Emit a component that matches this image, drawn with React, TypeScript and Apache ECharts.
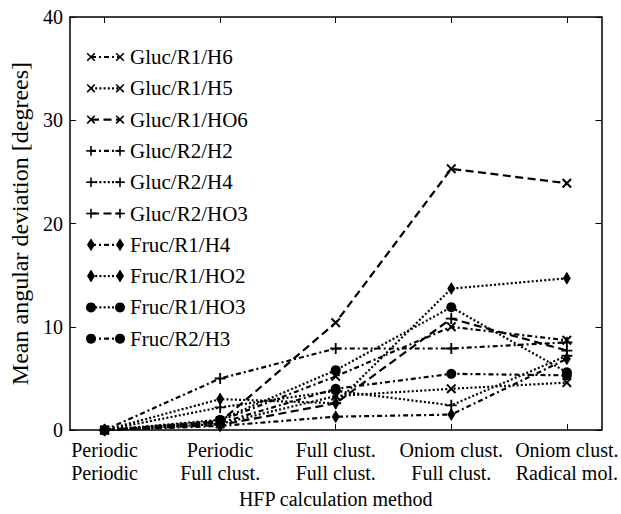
import React, { useEffect, useRef } from "react";
import * as echarts from "echarts";

const catLine1 = ["Periodic", "Periodic", "Full clust.", "Oniom clust.", "Oniom clust."];
const catLine2 = ["Periodic", "Full clust.", "Full clust.", "Full clust.", "Radical mol."];
const yTicks = [0, 10, 20, 30, 40];

const seriesNames = [
  "Gluc/R1/H6", "Gluc/R1/H5", "Gluc/R1/HO6", "Gluc/R2/H2", "Gluc/R2/H4",
  "Gluc/R2/HO3", "Fruc/R1/H4", "Fruc/R1/HO2", "Fruc/R1/HO3", "Fruc/R2/H3",
];
const glucR1H6 = [0, 0.9, 5.2, 10.0, 8.7];
const glucR1H5 = [0, 0.6, 3.3, 4.0, 4.6];
const glucR1HO6 = [0, 0.8, 10.4, 25.3, 23.9];
const glucR2H2 = [0, 5.0, 7.9, 7.9, 8.5];
const glucR2H4 = [0, 2.2, 3.8, 2.4, 7.2];
const glucR2HO3 = [0, 0.5, 2.6, 10.8, 7.7];
const frucR1H4 = [0, 0.4, 1.3, 1.5, 6.9];
const frucR1HO2 = [0, 3.0, 2.6, 13.7, 14.7];
const frucR1HO3 = [0, 1.0, 5.8, 11.9, 5.6];
const frucR2H3 = [0, 0.7, 4.0, 5.45, 5.3];
const seriesValues = [glucR1H6, glucR1H5, glucR1HO6, glucR2H2, glucR2H4, glucR2HO3, frucR1H4, frucR1HO2, frucR1HO3, frucR2H3];
const markerKinds = ["x", "x", "x", "+", "+", "+", "d", "d", "c", "c"];
const dashKinds = ["dd", "dot", "dash", "dd", "dot", "dash", "dd", "dot", "dot", "dd"];

const FONT = '"Liberation Serif", "Times New Roman", serif';
const DASH: Record<string, number[]> = {
  dd: [5, 3, 2, 3],
  dot: [2, 2.2],
  dash: [8, 4.5],
};
const PLUS_PATH = "path://M5,0H7V5H12V7H7V12H5V7H0V5H5Z";

function symbolFor(kind: string) {
  if (kind === "x") return { symbol: PLUS_PATH, symbolSize: 12, symbolRotate: 45 };
  if (kind === "+") return { symbol: PLUS_PATH, symbolSize: 11, symbolRotate: 0 };
  if (kind === "d") return { symbol: "diamond", symbolSize: [8, 13], symbolRotate: 0 };
  return { symbol: "circle", symbolSize: 10, symbolRotate: 0 };
}

function legendMarker(kind: string, cx: number, cy: number) {
  const st = { stroke: "#000", lineWidth: 1.6 };
  if (kind === "x") {
    return [
      { type: "line", shape: { x1: cx - 3.8, y1: cy - 3.8, x2: cx + 3.8, y2: cy + 3.8 }, style: st },
      { type: "line", shape: { x1: cx - 3.8, y1: cy + 3.8, x2: cx + 3.8, y2: cy - 3.8 }, style: st },
    ];
  }
  if (kind === "+") {
    return [
      { type: "line", shape: { x1: cx - 4.8, y1: cy, x2: cx + 4.8, y2: cy }, style: st },
      { type: "line", shape: { x1: cx, y1: cy - 4.8, x2: cx, y2: cy + 4.8 }, style: st },
    ];
  }
  if (kind === "d") {
    return [
      { type: "polygon", shape: { points: [[cx, cy - 6.5], [cx + 4, cy], [cx, cy + 6.5], [cx - 4, cy]] }, style: { fill: "#000" } },
    ];
  }
  return [{ type: "circle", shape: { cx, cy, r: 5 }, style: { fill: "#000" } }];
}

export default function App() {
  const ref = useRef<HTMLDivElement>(null);
  useEffect(() => {
    if (!ref.current) return;
    const chart = echarts.init(ref.current, null, { renderer: "svg" });

    const series = seriesNames.map((name, k) => {
      const s = symbolFor(markerKinds[k]);
      return {
        type: "line",
        name,
        data: seriesValues[k].map((v, i) => [i, v]),
        symbol: s.symbol,
        symbolSize: s.symbolSize,
        symbolRotate: s.symbolRotate,
        symbolKeepAspect: true,
        showAllSymbol: true,
        lineStyle: { color: "#000", width: 2.2, type: DASH[dashKinds[k]] },
        itemStyle: { color: "#000" },
        emphasis: { disabled: true },
        z: 3,
      };
    });

    const legendEls: any[] = [];
    seriesNames.forEach((name, k) => {
      const y = 57 + k * 31.3;
      const x1 = 91;
      const x2 = 120;
      legendEls.push({
        type: "line",
        shape: { x1, y1: y, x2, y2: y },
        style: { stroke: "#000", lineWidth: 2.2, lineDash: DASH[dashKinds[k]] },
      });
      legendEls.push(...legendMarker(markerKinds[k], x1, y));
      legendEls.push(...legendMarker(markerKinds[k], x2, y));
      legendEls.push({
        type: "text",
        x: 130,
        y,
        style: {
          text: name,
          font: `21px ${FONT}`,
          fill: "#000",
          verticalAlign: "middle",
          textVerticalAlign: "middle",
        },
      });
    });

    const axisLineStyle = { color: "#000", width: 1.5 };
    const xCustom = catLine1.map((_, i) => i);

    chart.setOption({
      animation: false,
      backgroundColor: "#fff",
      textStyle: { fontFamily: FONT },
      grid: { left: 62, right: 18, top: 17, bottom: 79 },
      xAxis: [
        {
          type: "value",
          min: -0.3,
          max: 4.3,
          position: "bottom",
          axisLine: { onZero: false, lineStyle: axisLineStyle },
          axisTick: { inside: true, length: 6, customValues: xCustom, lineStyle: { color: "#000", width: 1 } },
          axisLabel: {
            customValues: xCustom,
            formatter: (v: number) => {
              const i = Math.round(v);
              return catLine1[i] + "\n" + catLine2[i];
            },
            color: "#000",
            fontSize: 20,
            fontFamily: FONT,
            lineHeight: 23,
            margin: 8,
            hideOverlap: false,
          },
          splitLine: { show: false },
          name: "HFP calculation method",
          nameLocation: "middle",
          nameGap: 52,
          nameTextStyle: { color: "#000", fontSize: 20, fontFamily: FONT },
        },
        {
          type: "value",
          min: -0.3,
          max: 4.3,
          position: "top",
          axisLine: { onZero: false, lineStyle: axisLineStyle },
          axisTick: { inside: true, length: 6, customValues: xCustom, lineStyle: { color: "#000", width: 1 } },
          axisLabel: { show: false },
          splitLine: { show: false },
        },
      ],
      yAxis: [
        {
          type: "value",
          min: yTicks[0],
          max: yTicks[yTicks.length - 1],
          interval: 10,
          position: "left",
          axisLine: { show: true, onZero: false, lineStyle: axisLineStyle },
          axisTick: { show: true, inside: true, length: 6, lineStyle: { color: "#000", width: 1 } },
          axisLabel: { color: "#000", fontSize: 20, fontFamily: FONT, margin: 7 },
          splitLine: { show: false },
          name: "Mean angular deviation [degrees]",
          nameLocation: "middle",
          nameGap: 29,
          nameTextStyle: { color: "#000", fontSize: 24, fontFamily: FONT },
        },
        {
          type: "value",
          min: yTicks[0],
          max: yTicks[yTicks.length - 1],
          interval: 10,
          position: "right",
          axisLine: { show: true, onZero: false, lineStyle: axisLineStyle },
          axisTick: { show: true, inside: true, length: 6, lineStyle: { color: "#000", width: 1 } },
          axisLabel: { show: false },
          splitLine: { show: false },
        },
      ],
      series,
      graphic: legendEls,
    });
    return () => chart.dispose();
  }, []);
  return <div ref={ref} style={{ width: 621, height: 514, position: "absolute", left: 0, top: 0 }} />;
}
